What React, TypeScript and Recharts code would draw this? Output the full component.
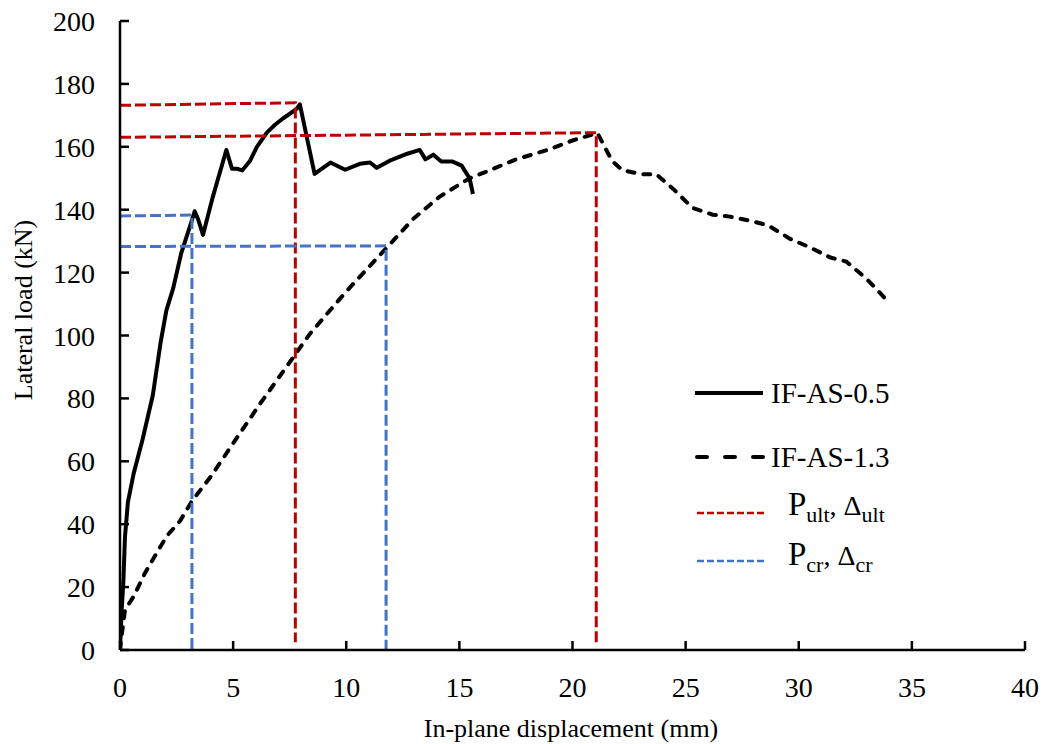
import { Line, LineChart, XAxis, YAxis } from "recharts";

const FONT = '"Liberation Serif", "Times New Roman", serif';

const xTicks = [0, 5, 10, 15, 20, 25, 30, 35, 40];
const yTicks = [0, 20, 40, 60, 80, 100, 120, 140, 160, 180, 200];

// IF-AS-0.5 (solid)
const ifAs05 = [
  { x: 0, y: 0 }, { x: 0.07, y: 12 }, { x: 0.15, y: 22 }, { x: 0.22, y: 36 },
  { x: 0.35, y: 47 }, { x: 0.6, y: 56 }, { x: 1.0, y: 67 }, { x: 1.45, y: 81 },
  { x: 1.8, y: 98 }, { x: 2.05, y: 108 }, { x: 2.35, y: 115 }, { x: 2.7, y: 126 },
  { x: 3.15, y: 136 }, { x: 3.3, y: 139.5 }, { x: 3.45, y: 137 }, { x: 3.67, y: 132 },
  { x: 4.1, y: 144 }, { x: 4.7, y: 159 }, { x: 4.95, y: 153 }, { x: 5.2, y: 153 },
  { x: 5.4, y: 152.5 }, { x: 5.75, y: 155.6 }, { x: 6.05, y: 160 }, { x: 6.5, y: 164.6 },
  { x: 6.85, y: 167 }, { x: 7.2, y: 169 }, { x: 7.8, y: 172 }, { x: 7.95, y: 173.5 },
  { x: 8.6, y: 151.4 }, { x: 9.3, y: 155 }, { x: 9.95, y: 152.7 }, { x: 10.6, y: 154.6 },
  { x: 11.05, y: 155 }, { x: 11.35, y: 153.3 }, { x: 11.9, y: 155.5 }, { x: 12.7, y: 157.8 },
  { x: 13.25, y: 159 }, { x: 13.5, y: 156 }, { x: 13.85, y: 157.5 }, { x: 14.2, y: 155.3 },
  { x: 14.7, y: 155.3 }, { x: 15.1, y: 154 }, { x: 15.45, y: 150 }, { x: 15.6, y: 145 },
];

// IF-AS-1.3 (dashed)
const ifAs13 = [
  { x: 0, y: 0 }, { x: 0.1, y: 6 }, { x: 0.22, y: 12.7 }, { x: 0.6, y: 17 },
  { x: 1.1, y: 24.4 }, { x: 1.77, y: 32.7 }, { x: 2.1, y: 36.5 }, { x: 2.65, y: 41 },
  { x: 3.2, y: 47.6 }, { x: 4.0, y: 55 }, { x: 5.0, y: 65.7 }, { x: 6.2, y: 78.4 },
  { x: 7.65, y: 93 }, { x: 8.4, y: 100.6 }, { x: 10.0, y: 114 }, { x: 11.8, y: 128 },
  { x: 12.95, y: 137 }, { x: 14.1, y: 144 }, { x: 15.45, y: 150 }, { x: 16.5, y: 153 },
  { x: 17.5, y: 156 }, { x: 18.9, y: 159 }, { x: 20.0, y: 162 }, { x: 21.1, y: 164.4 },
  { x: 21.75, y: 155.5 }, { x: 22.2, y: 152.6 }, { x: 23.0, y: 151.3 }, { x: 23.7, y: 151.3 },
  { x: 24.45, y: 146.6 }, { x: 25.3, y: 140.6 }, { x: 26.2, y: 138.4 }, { x: 26.95, y: 137.8 },
  { x: 27.85, y: 136.5 }, { x: 28.65, y: 135 }, { x: 29.6, y: 130.8 }, { x: 30.5, y: 128 },
  { x: 31.4, y: 124.8 }, { x: 32.1, y: 123.5 }, { x: 33.0, y: 118 }, { x: 33.7, y: 112.7 },
  { x: 33.85, y: 111.5 },
];

// P_ult / Δ_ult guides (red)
const ult05 = [{ x: 0, y: 173.2 }, { x: 7.75, y: 174 }, { x: 7.75, y: 2.5 }];
const ult13 = [{ x: 0, y: 163 }, { x: 21.05, y: 164.5 }, { x: 21.05, y: 1.5 }];
// P_cr / Δ_cr guides (blue)
const cr05 = [{ x: 0, y: 138 }, { x: 3.18, y: 138.3 }, { x: 3.18, y: 0 }];
const cr13 = [{ x: 0, y: 128.3 }, { x: 11.76, y: 128.5 }, { x: 11.76, y: 0 }];

const RED = "#c00000";
const BLUE = "#4472c4";

function YTick({ x, y, payload }: any) {
  return (
    <g>
      <line x1={x} x2={x + 9} y1={y} y2={y} stroke="#000" strokeWidth={2.5} />
      <text x={x - 25} y={y + 10} textAnchor="end" fontSize={28} fontFamily={FONT} fill="#000">
        {payload.value}
      </text>
    </g>
  );
}

function XTick({ x, y, payload }: any) {
  return (
    <g>
      <line x1={x} x2={x} y1={y} y2={y - 9} stroke="#000" strokeWidth={2.5} />
      <text x={x} y={y + 47} textAnchor="middle" fontSize={28} fontFamily={FONT} fill="#000">
        {payload.value}
      </text>
    </g>
  );
}

function Overlay() {
  return (
    <svg
      width={1042}
      height={744}
      style={{ position: "absolute", left: 0, top: 0, pointerEvents: "none" }}
      fontFamily={FONT}
    >
      <text x={571} y={737} textAnchor="middle" fontSize={26} fill="#000">
        In-plane displacement (mm)
      </text>
      <text
        x={0}
        y={0}
        transform="translate(32,310) rotate(-90)"
        textAnchor="middle"
        fontSize={26}
        fill="#000"
      >
        Lateral load (kN)
      </text>

      {/* legend */}
      <line x1={695} x2={763} y1={393} y2={393} stroke="#000" strokeWidth={4} />
      <text x={771} y={403} fontSize={29} fill="#000">IF-AS-0.5</text>

      <line
        x1={697} x2={763} y1={457} y2={457}
        stroke="#000" strokeWidth={4} strokeDasharray="10 18" strokeLinecap="round"
      />
      <text x={771} y={467} fontSize={29} fill="#000">IF-AS-1.3</text>

      <line x1={697} x2={765} y1={513} y2={513} stroke={RED} strokeWidth={2.5} strokeDasharray="7 3" />
      <text x={788} y={515} fill="#000">
        <tspan fontSize={33}>P</tspan>
        <tspan fontSize={22} dy={7}>ult</tspan>
        <tspan fontSize={28} dy={-7}>, Δ</tspan>
        <tspan fontSize={22} dy={7}>ult</tspan>
      </text>

      <line x1={697} x2={765} y1={561} y2={561} stroke={BLUE} strokeWidth={2.5} strokeDasharray="7 3" />
      <text x={788} y={565} fill="#000">
        <tspan fontSize={33}>P</tspan>
        <tspan fontSize={22} dy={7}>cr</tspan>
        <tspan fontSize={28} dy={-7}>, Δ</tspan>
        <tspan fontSize={22} dy={7}>cr</tspan>
      </text>
    </svg>
  );
}

export default function App() {
  return (
    <div style={{ position: "absolute", left: 0, top: 0, width: 1042, height: 744, background: "#fff" }}>
      <LineChart width={1042} height={744} margin={{ top: 21, right: 17, bottom: 34, left: 50 }}>
        <XAxis
          type="number"
          dataKey="x"
          domain={[0, 40]}
          ticks={xTicks}
          interval={0}
          height={60}
          tickSize={0}
          tickMargin={0}
          tickLine={false}
          axisLine={{ stroke: "#000", strokeWidth: 2.5 }}
          tick={<XTick />}
          allowDataOverflow
        />
        <YAxis
          type="number"
          dataKey="y"
          domain={[0, 200]}
          ticks={yTicks}
          interval={0}
          width={70}
          tickSize={0}
          tickMargin={0}
          tickLine={false}
          axisLine={{ stroke: "#000", strokeWidth: 2.5 }}
          tick={<YTick />}
          allowDataOverflow
        />
        <Line
          data={ifAs05}
          dataKey="y"
          type="linear"
          stroke="#000"
          strokeWidth={4}
          strokeLinejoin="round"
          dot={false}
          activeDot={false}
          isAnimationActive={false}
        />
        <Line
          data={ifAs13}
          dataKey="y"
          type="linear"
          stroke="#000"
          strokeWidth={4}
          strokeDasharray="7 9"
          strokeLinecap="round"
          dot={false}
          activeDot={false}
          isAnimationActive={false}
        />
        {[ult05, ult13].map((d, i) => (
          <Line
            key={`ult${i}`}
            data={d}
            dataKey="y"
            type="linear"
            stroke={RED}
            strokeWidth={3}
            strokeDasharray="11 4"
            dot={false}
            activeDot={false}
            isAnimationActive={false}
          />
        ))}
        {[cr05, cr13].map((d, i) => (
          <Line
            key={`cr${i}`}
            data={d}
            dataKey="y"
            type="linear"
            stroke={BLUE}
            strokeWidth={3}
            strokeDasharray="11 4"
            dot={false}
            activeDot={false}
            isAnimationActive={false}
          />
        ))}
      </LineChart>
      <Overlay />
    </div>
  );
}
